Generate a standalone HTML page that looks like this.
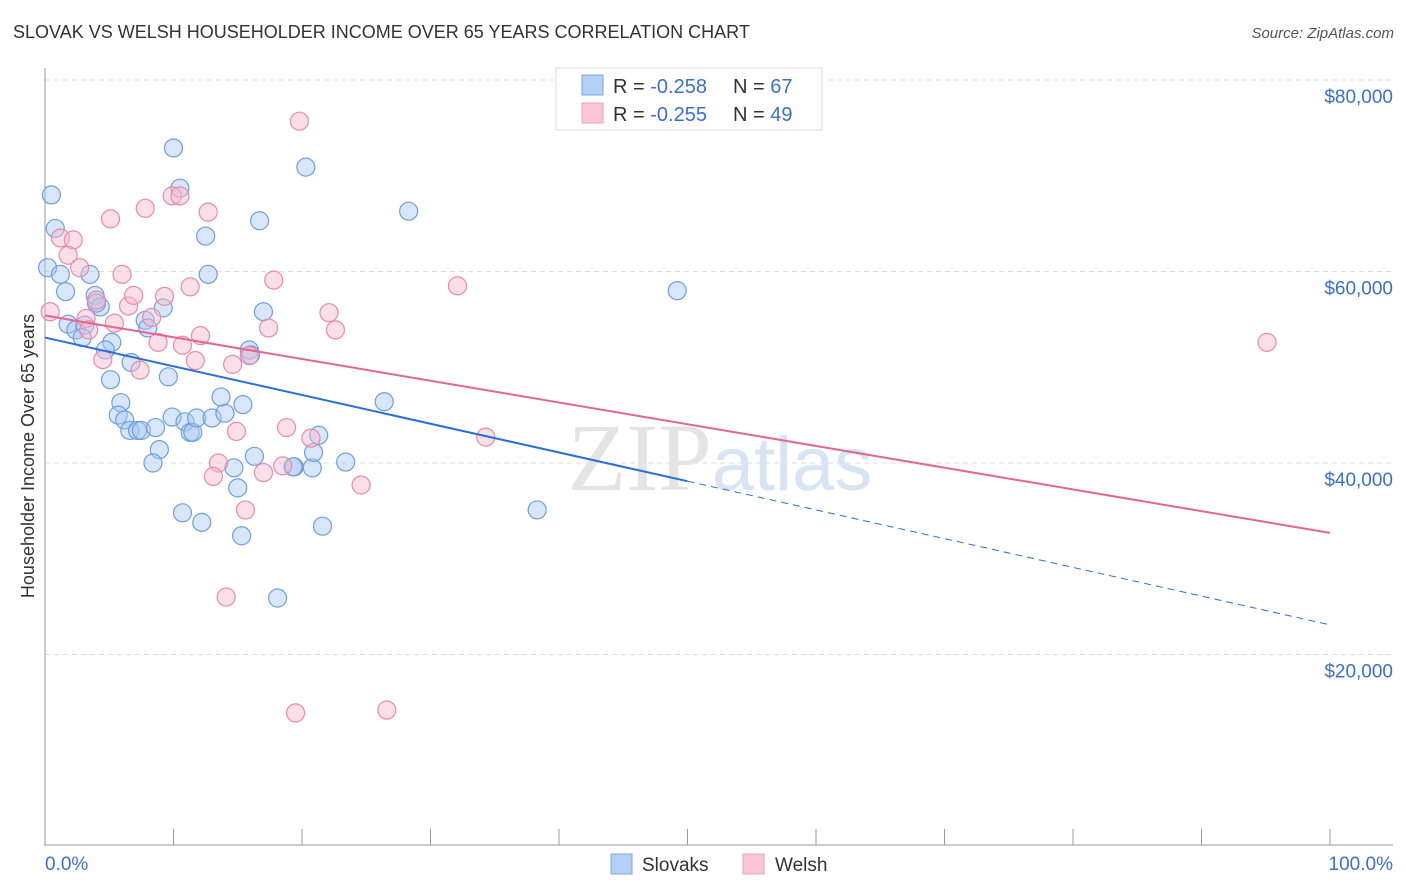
<!DOCTYPE html>
<html><head><meta charset="utf-8">
<style>
body{margin:0;background:#fff;font-family:"Liberation Sans",sans-serif;}
#wrap{position:relative;width:1406px;height:892px;overflow:hidden;}
.t{position:absolute;white-space:nowrap;}
</style></head>
<body>
<div id="wrap">
<div class="t" style="left:13px;top:22px;font-size:18px;color:#333;">SLOVAK VS WELSH HOUSEHOLDER INCOME OVER 65 YEARS CORRELATION CHART</div>
<div class="t" style="right:12px;top:25px;font-size:15px;color:#555;font-style:italic;">Source: ZipAtlas.com</div>
<svg id="svg" width="1406" height="892" style="position:absolute;left:0;top:0"></svg>
</div>
<script>
const blueX=[0.5,0.8,0.2,1.2,3.5,1.6,3.9,4.3,4.0,1.8,2.4,3.1,2.9,5.2,4.7,6.7,5.1,7.8,8.0,9.2,10.0,10.5,12.5,12.7,16.7,20.3,28.3,49.2,17.0,15.9,16.0,9.6,5.9,5.7,6.2,6.6,7.2,7.5,8.6,9.9,10.9,11.3,11.5,11.8,13.0,14.0,13.7,15.4,8.9,8.4,14.7,16.3,19.4,20.8,20.9,21.3,23.4,26.4,15.0,10.7,12.2,15.3,21.6,38.3,18.1,19.3];
const blueY=[68000,64500,60400,59700,59700,57900,57500,56300,56700,54500,53900,54400,53100,52600,51800,50500,48700,54900,54100,56200,72900,68700,63700,59700,65300,70900,66300,58000,55800,51800,51300,49000,46300,45000,44500,43400,43400,43400,43700,44800,44300,43200,43200,44700,44700,45200,46900,46100,41400,40000,39500,40700,39600,39500,41100,42900,40100,46400,37400,34800,33800,32400,33400,35100,25900,39600];
const pinkX=[0.4,1.2,2.2,1.8,2.7,5.1,7.8,9.9,10.5,12.7,19.8,6.0,4.0,6.5,6.9,9.3,11.3,17.8,8.3,5.4,3.2,3.4,8.8,10.7,12.1,4.5,7.4,11.7,14.6,15.9,17.4,22.1,22.6,32.1,95.1,34.3,14.9,18.8,20.7,13.5,13.1,17.0,18.5,24.6,15.6,14.1,19.5,26.6];
const pinkY=[55800,63500,63300,61700,60400,65500,66600,67900,67900,66200,75700,59700,57000,56400,57500,57400,58400,59100,55200,54600,55100,53900,52600,52300,53300,50800,49700,50700,50300,51200,54100,55700,53900,58500,52600,42700,43300,43700,42600,40000,38600,39000,39700,37700,35100,26000,13900,14200];
const yTicks=[20000,40000,60000,80000];
const yTickLabels=["$20,000","$40,000","$60,000","$80,000"];
const blueTrend=[53100,23100];
const pinkTrend=[55400,32700];

const NS="http://www.w3.org/2000/svg";
const svg=document.getElementById('svg');
const X=p=>45+p*12.85;
const Y=v=>846-v/20000*191.5;
function mk(tag,a,parent){const e=document.createElementNS(NS,tag);for(const k in a)e.setAttribute(k,a[k]);(parent||svg).appendChild(e);return e;}

// gridlines
yTicks.forEach((v,i)=>{
  const g=mk('line',{x1:45,x2:1393,y1:Y(v),y2:Y(v),stroke:'#ddd','stroke-dasharray':'5,4'});
  
  
  const t=mk('text',{x:1393,y:Y(v)+23,'text-anchor':'end','font-size':19,fill:'#3a6fd0','font-family':'Liberation Sans'});
  t.textContent=yTickLabels[i];
  
  
});
// axes
let ax=mk('line',{x1:45,x2:45,y1:68,y2:846,stroke:'#999'});


ax=mk('line',{x1:45,x2:1393,y1:845,y2:845,stroke:'#999'});


for(let i=0;i<=10;i++){
  const tk=mk('line',{x1:X(i*10),x2:X(i*10),y1:829,y2:845,stroke:'#999'});
  
  
}
// watermark
const wm=mk('text',{x:720,y:490,'text-anchor':'middle','font-size':96,fill:'#e4e4e4','font-family':'Liberation Serif'});
wm.innerHTML='ZIP<tspan fill="#d6e4f4" font-family="Liberation Sans" font-size="76">atlas</tspan>';



function dots(xs,ys,fill,stroke,name){
  xs.forEach((x,i)=>{
    const c=mk('circle',{cx:X(x),cy:Y(ys[i]),r:9,fill:fill,'fill-opacity':0.45,stroke:stroke,'stroke-width':1.2});
    
    
  });
}
dots(blueX,blueY,'#a9c8f2','#6d9fe0','slovak-point');
dots(pinkX,pinkY,'#f7b8cb','#e98aa9','welsh-point');

// trend lines
const bm=(v)=>blueTrend[0]+(blueTrend[1]-blueTrend[0])*v/100;
let l=mk('line',{x1:X(0),y1:Y(bm(0)),x2:X(50),y2:Y(bm(50)),stroke:'#2a6fd6','stroke-width':2});


l=mk('line',{x1:X(50),y1:Y(bm(50)),x2:X(100),y2:Y(bm(100)),stroke:'#2a6fd6','stroke-width':1,'stroke-dasharray':'7,5'});


l=mk('line',{x1:X(0),y1:Y(pinkTrend[0]),x2:X(100),y2:Y(pinkTrend[1]),stroke:'#e4668f','stroke-width':2});



// x labels
let t=mk('text',{x:45,y:870,'font-size':19,fill:'#3a6fd0','font-family':'Liberation Sans'});t.textContent='0.0%';


t=mk('text',{x:1393,y:870,'text-anchor':'end','font-size':19,fill:'#3a6fd0','font-family':'Liberation Sans'});t.textContent='100.0%';


t=mk('text',{x:0,y:0,'font-size':18,fill:'#333','font-family':'Liberation Sans','text-anchor':'middle',transform:'translate(34,456) rotate(-90)'});t.textContent='Householder Income Over 65 years';



// top legend
const lg=mk('g',{});


mk('rect',{x:556,y:68,width:266,height:62,fill:'#fff',stroke:'#ddd'},lg);
mk('rect',{x:582,y:75,width:21,height:20,fill:'#b5d0f5',stroke:'#7aa6e3'},lg);
mk('rect',{x:582,y:103,width:21,height:20,fill:'#fac6d5',stroke:'#eea0b9'},lg);
[['-0.258','67',93],['-0.255','49',121]].forEach(r=>{
  const tx=mk('text',{x:613,y:r[2],'font-size':20,fill:'#333','font-family':'Liberation Sans'},lg);
  tx.innerHTML='R = <tspan fill="#3a6fd0">'+r[0]+'</tspan><tspan x="733">N = </tspan><tspan fill="#3a6fd0">'+r[1]+'</tspan>';
});
// bottom legend
const bl=mk('g',{});


mk('rect',{x:611,y:854,width:21,height:20,fill:'#b5d0f5',stroke:'#7aa6e3'},bl);
mk('rect',{x:743,y:854,width:21,height:20,fill:'#fac6d5',stroke:'#eea0b9'},bl);
let s=mk('text',{x:642,y:871,'font-size':19,fill:'#333','font-family':'Liberation Sans'},bl);s.textContent='Slovaks';
s=mk('text',{x:775,y:871,'font-size':19,fill:'#333','font-family':'Liberation Sans'},bl);s.textContent='Welsh';
</script>
</body></html>
